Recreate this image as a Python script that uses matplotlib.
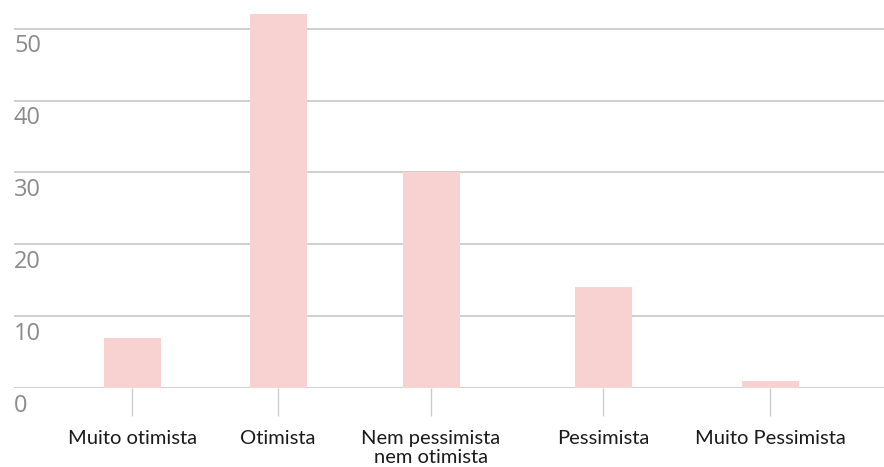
import matplotlib.pyplot as plt

# data
categories = ['Muito otimista', 'Otimista', 'Nem pessimista\nnem otimista',
              'Pessimista', 'Muito Pessimista']
values = [7, 52, 30, 14, 1]
y_ticks = [0, 10, 20, 30, 40, 50]

# layout (axes units, roughly pixels from left edge of the plot area)
x_pos = [118, 264, 417, 589, 756]
bar_w = 57

fig = plt.figure(figsize=(8.84, 4.67), dpi=100)
ax = fig.add_axes([14 / 884, 79 / 467, 870 / 884, 388 / 467])

ax.bar(x_pos, values, width=bar_w, color='#f8d1d1', zorder=2)

ax.set_xlim(0, 870)
ax.set_ylim(0, 54)

# horizontal grid lines
for t in y_ticks:
    ax.axhline(t, color='#cccccc', lw=1.3, zorder=1)
    ax.annotate(str(t), xy=(0, t), xycoords=ax.get_yaxis_transform(),
                xytext=(0, -4), textcoords='offset points',
                ha='left', va='top', fontsize=17, color='#8a8a8a',
                family='Open Sans')

for s in ax.spines.values():
    s.set_visible(False)
ax.set_yticks([])

ax.set_xticks(x_pos)
ax.set_xticklabels(categories, fontsize=14.5, color='#1a1a1a', family='Lato',
                   linespacing=1.2)
ax.tick_params(axis='x', length=20, width=1, color='#cccccc', pad=10)

plt.savefig('out.png', dpi=100)
